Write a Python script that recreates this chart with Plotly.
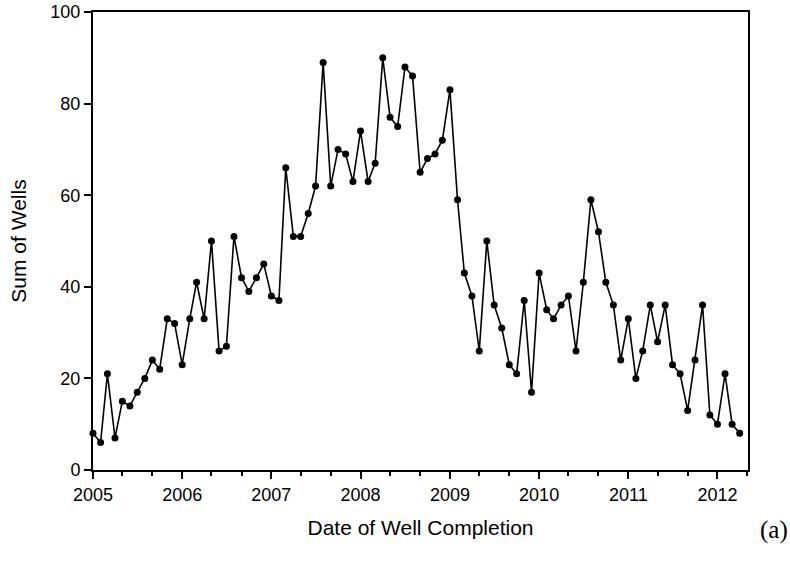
import pandas as pd
import plotly.graph_objects as go

# Monthly well completions, Jan 2005 - Apr 2012
months = pd.date_range("2005-01-01", periods=88, freq="MS")
wells = [8, 6, 21, 7, 15, 14, 17, 20, 24, 22, 33, 32,
         23, 33, 41, 33, 50, 26, 27, 51, 42, 39, 42, 45,
         38, 37, 66, 51, 51, 56, 62, 89, 62, 70, 69, 63,
         74, 63, 67, 90, 77, 75, 88, 86, 65, 68, 69, 72,
         83, 59, 43, 38, 26, 50, 36, 31, 23, 21, 37, 17,
         43, 35, 33, 36, 38, 26, 41, 59, 52, 41, 36, 24,
         33, 20, 26, 36, 28, 36, 23, 21, 13, 24, 36, 12,
         10, 21, 10, 8]
x_ticks = ["2005", "2006", "2007", "2008", "2009", "2010", "2011", "2012"]
y_ticks = [0, 20, 40, 60, 80, 100]

fig = go.Figure()
fig.add_trace(go.Scatter(
    x=months, y=wells, mode="lines+markers",
    line=dict(color="black", width=1.6),
    marker=dict(color="black", size=7),
    cliponaxis=False, showlegend=False,
))

font = "Liberation Sans, Arial, sans-serif"
fig.update_layout(
    width=790, height=563,
    margin=dict(l=93, r=42, t=12, b=93, autoexpand=False),
    paper_bgcolor="white", plot_bgcolor="white",
    font=dict(family=font, color="black", size=18),
)
fig.update_xaxes(
    type="date", automargin=False,
    range=["2005-01-01", "2012-05-05"],
    tickvals=[f"{y}-01-01" for y in x_ticks],
    ticktext=x_ticks,
    ticks="outside", ticklen=7, tickwidth=1.5, tickcolor="black",
    minor=dict(dtick="M4", tick0="2005-01-01", ticks="outside", ticklen=4,
               tickwidth=1.5, tickcolor="black", showgrid=False),
    showline=True, linecolor="black", linewidth=2, mirror=True,
    showgrid=False, zeroline=False,
    tickfont=dict(size=18),
    title=dict(text="Date of Well Completion", font=dict(size=21), standoff=17),
)
fig.update_yaxes(
    automargin=False,
    range=[0, 100],
    tickvals=y_ticks,
    ticks="outside", ticklen=7, tickwidth=1.5, tickcolor="black",
    showline=True, linecolor="black", linewidth=2, mirror=True,
    showgrid=False, zeroline=False,
    tickfont=dict(size=18),
    title=dict(text="Sum of Wells", font=dict(size=21), standoff=18),
)
fig.add_annotation(
    text="(a)", xref="paper", yref="paper", x=1.0, y=0, xshift=42, yshift=-60,
    xanchor="right", yanchor="middle", showarrow=False,
    font=dict(family="Liberation Serif, Times New Roman, serif", size=25, color="black"),
)
fig.write_html(
    "out.html",
    config={"displayModeBar": False},
    post_script="document.body.style.margin='0';document.body.style.padding='0';",
)
